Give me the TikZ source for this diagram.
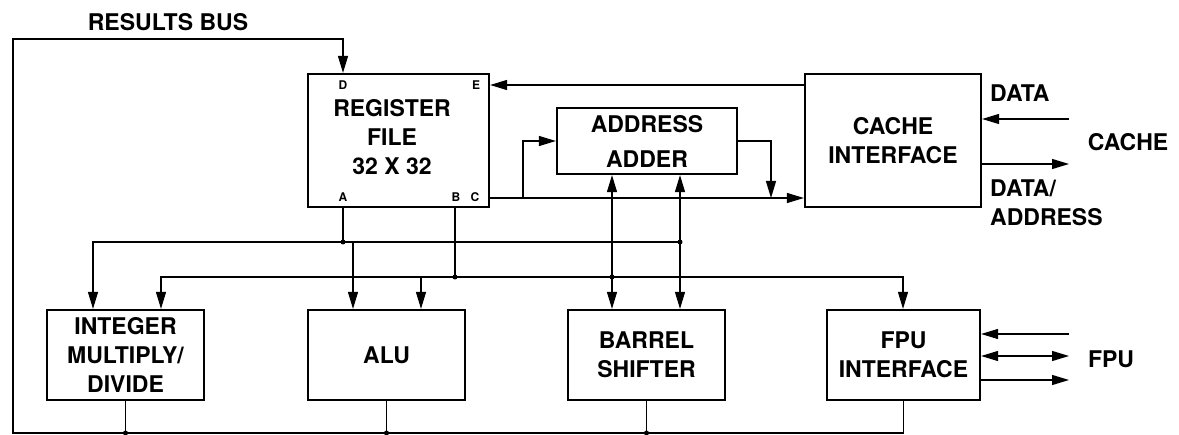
\documentclass[tikz,border=0pt]{standalone}
\usepackage{fontspec}
\setmainfont{TeX Gyre Heros}
\usetikzlibrary{arrows.meta,calc}
\begin{document}
\begin{tikzpicture}[x=1pt,y=-1pt,
  box/.style={draw,line width=2.2pt,inner sep=0pt,align=center,font=\bfseries\fontsize{23}{29}\selectfont},
  lbl/.style={inner sep=0pt,font=\bfseries\fontsize{23}{29}\selectfont},
  port/.style={inner sep=0pt,font=\bfseries\fontsize{12}{14}\selectfont},
  wire/.style={line width=1.2pt},
  arr/.style={wire,-{Triangle[length=17pt,width=10pt]}},
  biarr/.style={wire,{Triangle[length=17pt,width=10pt]}-{Triangle[length=17pt,width=10pt]}},
  jdot/.style={circle,fill,inner sep=0pt,minimum size=5pt}]
\useasboundingbox (0,0) rectangle (1179,435);

% boxes
\node[box,minimum width=181pt,minimum height=133pt] (reg) at (398.5,140.5) {};
\node[lbl,align=center] (regt) at (392,137) {REGISTER\\FILE\\32 X 32};
\node[port] (pD) at (343,85) {D};
\node[port] (pE) at (476,85) {E};
\node[port] (pA) at (343,197) {A};
\node[port] (pB) at (456,197) {B};
\node[port] (pC) at (475,197) {C};

\node[box,minimum width=180pt,minimum height=66pt] (adr) at (647,141) {ADDRESS\\[6pt]ADDER};
\node[box,minimum width=176pt,minimum height=133pt] (cache) at (893,140.5) {CACHE\\INTERFACE};

\node[box,minimum width=157pt,minimum height=90pt] (im) at (125.5,355) {INTEGER\\MULTIPLY/\\DIVIDE};
\node[box,minimum width=157pt,minimum height=90pt] (alu) at (386.5,355) {ALU};
\node[box,minimum width=157pt,minimum height=90pt] (bs) at (646.5,355) {BARREL\\SHIFTER};
\node[box,minimum width=153pt,minimum height=90pt] (fpu) at (903.5,355) {FPU\\INTERFACE};

% outside labels
\node[lbl] (rbus) at (168,22) {RESULTS BUS};
\node[lbl,anchor=west] (data) at (990,93) {DATA};
\node[lbl] (cachel) at (1128,142) {CACHE};
\node[lbl,anchor=west,align=left] (dataaddr) at (990,202.5) {DATA/\\ADDRESS};
\node[lbl] (fpul) at (1111,359) {FPU};

% free ends and bends
\coordinate (cin) at (1069,119);
\coordinate (cout) at (1069,164);
\coordinate (fin) at (1069,334);
\coordinate (fbi) at (1069,356);
\coordinate (fout) at (1069,380);
\coordinate (eY) at (0,85);
\coordinate (cY) at (0,198);
\coordinate (cbr) at (523,198);
\coordinate (aout) at (771,198);
\coordinate (rb1) at (13,433);
\coordinate (rb2) at (13,39);
\coordinate (dX) at (343,0);
\coordinate (aX) at (343,242);
\coordinate (aL) at (93,242);
\coordinate (aR) at (680,242);
\coordinate (aA) at (353,242);
\coordinate (bX) at (455,277);
\coordinate (bL) at (161,277);
\coordinate (bR) at (903,277);
\coordinate (bA) at (421,277);
\coordinate (v1) at (612,0);
\coordinate (v2) at (680,0);

% cache side
\draw[arr] (cin) -- (cin -| cache.east);
\draw[arr] (cout -| cache.east) -- (cout);
% fpu side
\draw[arr] (fin) -- (fin -| fpu.east);
\draw[biarr] (fbi -| fpu.east) -- (fbi);
\draw[arr] (fout -| fpu.east) -- (fout);

% E and C paths
\draw[arr] (eY -| cache.west) -- (eY -| reg.east);
\draw[arr] (cY -| reg.east) -- (cY -| cache.west);
\draw[arr] (cbr) |- (adr.west);
\draw[arr] (adr.east) -| (aout);

% results bus
\draw[arr] (fpu.south) |- (rb1) -- (rb2) -| (dX |- reg.north);
\draw[wire] (im.south) -- (im.south |- rb1);
\draw[wire] (alu.south) -- (alu.south |- rb1);
\draw[wire] (bs.south) -- (bs.south |- rb1);
\node[jdot] (j5) at (im.south |- rb1) {};
\node[jdot] (j6) at (alu.south |- rb1) {};
\node[jdot] (j7) at (bs.south |- rb1) {};

% A bus
\draw[wire] (aX |- reg.south) -- (aX);
\draw[arr] (aR) -- (aL) -- (aL |- im.north);
\draw[arr] (aA) -- (aA |- alu.north);
% B bus
\draw[wire] (bX |- reg.south) -- (bX);
\draw[biarr] (bL |- im.north) -- (bL) -- (bR) -- (bR |- fpu.north);
\draw[arr] (bA) -- (bA |- alu.north);
% address adder / barrel shifter verticals
\draw[biarr] (v1 |- adr.south) -- (v1 |- bs.north);
\draw[biarr] (v2 |- adr.south) -- (v2 |- bs.north);

\node[jdot] (j1) at (aX) {};
\node[jdot] (j2) at (bX) {};
\node[jdot] (j3) at (v1 |- bX) {};
\node[jdot] (j4) at (aR) {};
\end{tikzpicture}
\end{document}
